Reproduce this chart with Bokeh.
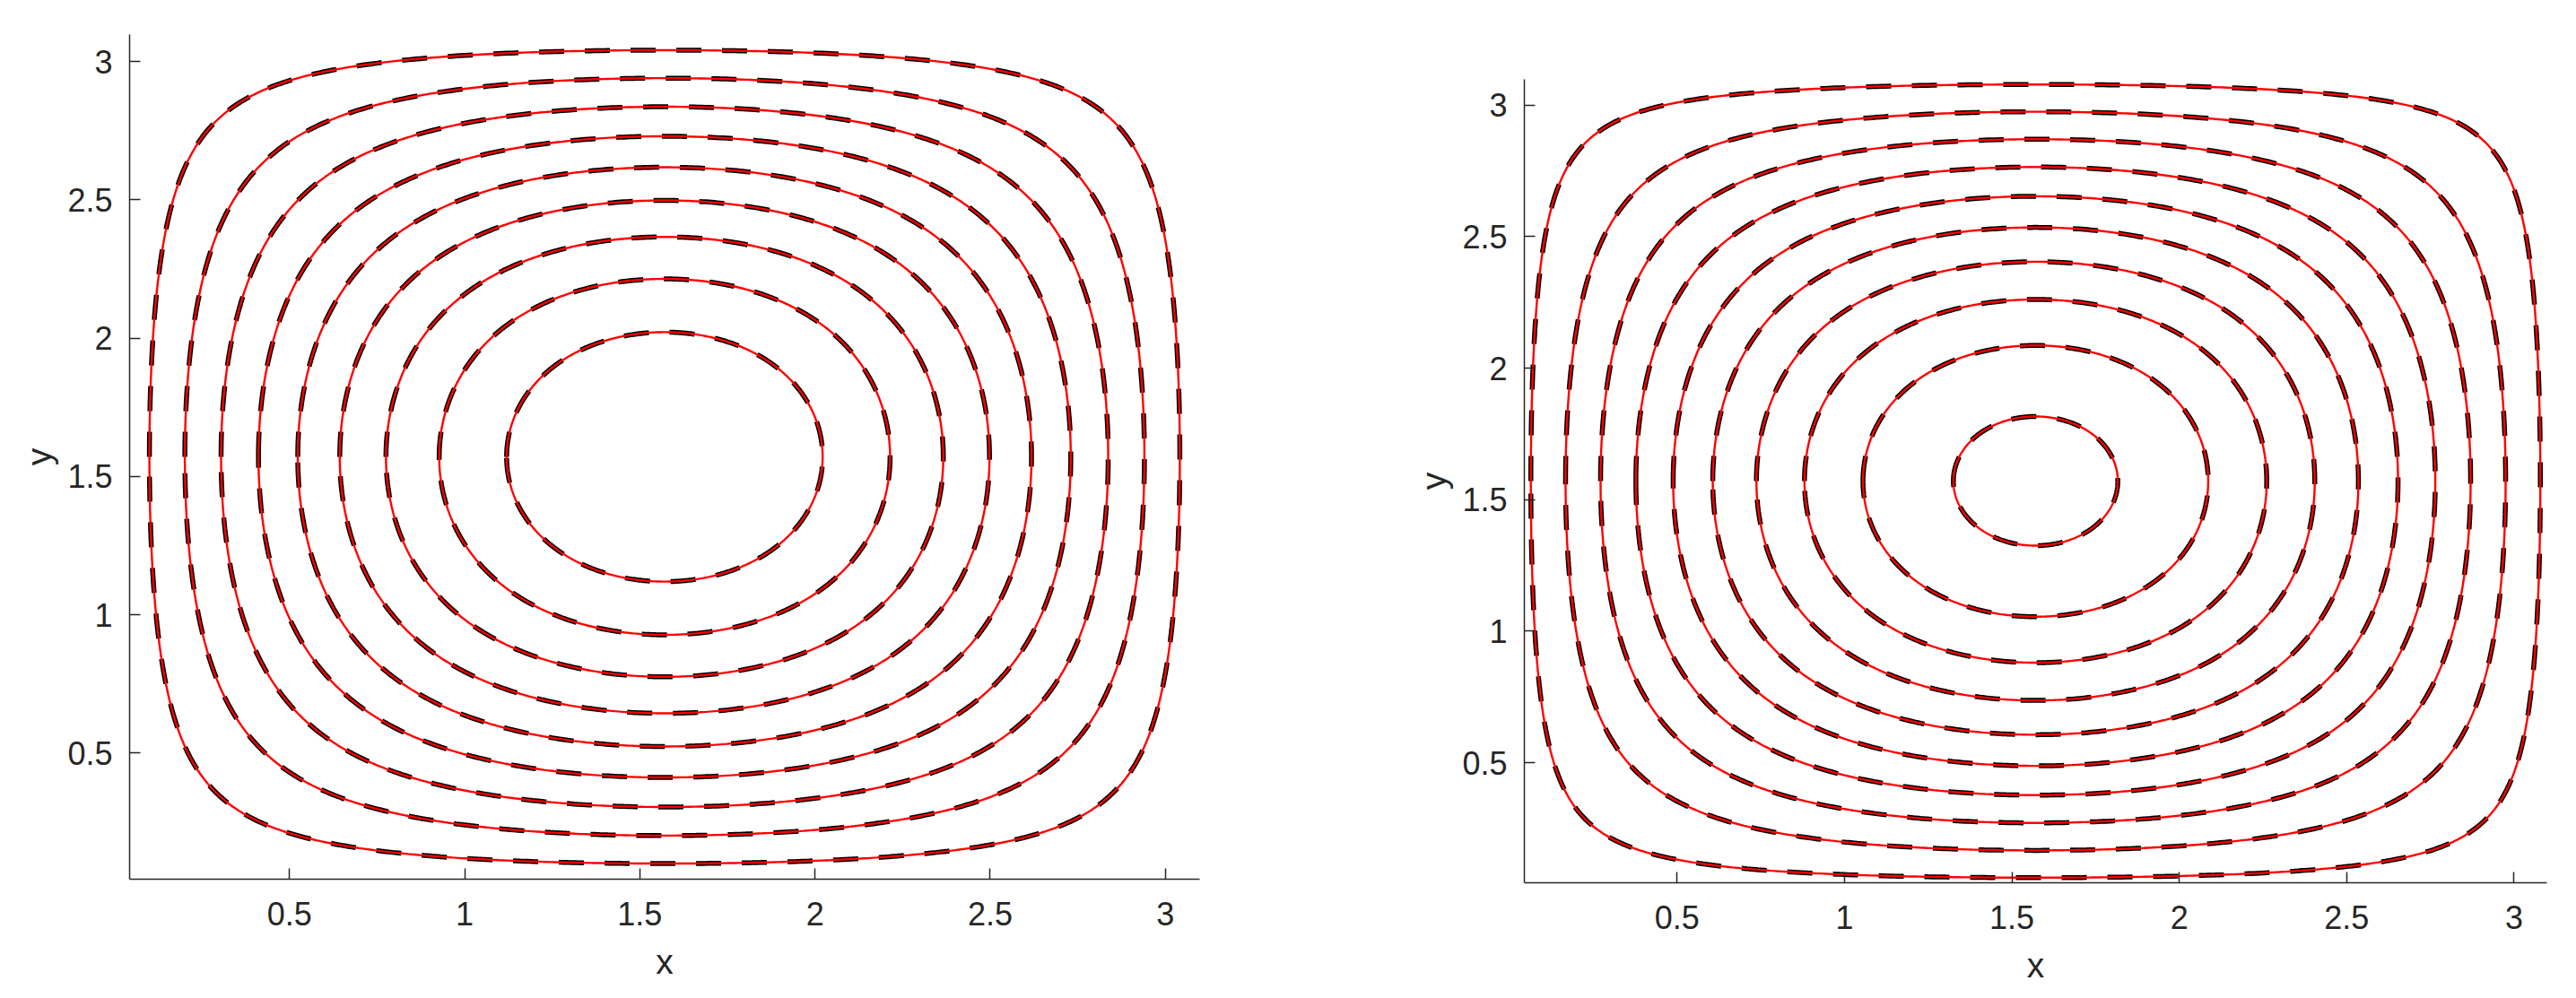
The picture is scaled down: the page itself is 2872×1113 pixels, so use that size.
import numpy as np
from bokeh.plotting import figure
from bokeh.layouts import row, column
from bokeh.models import Range1d, FixedTicker
from bokeh.embed import file_html
from bokeh.resources import INLINE

# ---- data ----
# streamfunction psi(x, y) = sin(x) sin(y); contour levels of each panel
axis_limits = [np.pi / 72, 71 * np.pi / 72]
tick_values = [0.5, 1, 1.5, 2, 2.5, 3]
tick_labels = ["0.5", "1", "1.5", "2", "2.5", "3"]
left_levels = [0.1, 0.2, 0.3, 0.4, 0.5, 0.6, 0.7, 0.8, 0.9]
right_levels = [0.063, 0.166, 0.268, 0.368, 0.469, 0.570, 0.672, 0.771, 0.870, 0.970]
x_label = "x"
y_label = "y"

FONT = "Liberation Sans"
TXT = "#262626"


def level_curve(c, n=360):
    a = np.arcsin(c)
    s = np.linspace(0.0, np.pi, n)
    x = np.pi / 2 - (np.pi / 2 - a) * np.cos(s)
    r = np.clip(c / np.sin(x), -1.0, 1.0)
    y_low = np.arcsin(r)
    y_up = np.pi - y_low
    xs = np.concatenate([x, x[::-1]])
    ys = np.concatenate([y_up, y_low[::-1]])
    return xs.tolist(), ys.tolist()


def make_panel(levels, width, height, bl, br, bt, bb):
    p = figure(width=width, height=height,
               x_range=Range1d(axis_limits[0], axis_limits[1]),
               y_range=Range1d(axis_limits[0], axis_limits[1]),
               output_backend="svg", toolbar_location=None,
               min_border_left=bl, min_border_right=br,
               min_border_top=bt, min_border_bottom=bb)
    p.outline_line_color = None
    p.xgrid.grid_line_color = None
    p.ygrid.grid_line_color = None
    curves = [level_curve(c) for c in levels]
    xs = [c[0] for c in curves]
    ys = [c[1] for c in curves]
    p.multi_line(xs, ys, line_color="black", line_width=5.5, line_dash="28 23")
    p.multi_line(xs, ys, line_color="#ff0000", line_width=2.4)
    overrides = {float(v): l for v, l in zip(tick_values, tick_labels)}
    for ax in (p.xaxis[0], p.yaxis[0]):
        ax.ticker = FixedTicker(ticks=tick_values)
        ax.major_label_overrides = overrides
        ax.minor_tick_line_color = None
        ax.major_tick_in = 12
        ax.major_tick_out = 0
        ax.axis_line_color = TXT
        ax.axis_line_width = 1.5
        ax.major_tick_line_color = TXT
        ax.major_tick_line_width = 1.5
        ax.major_label_text_font = FONT
        ax.major_label_text_font_size = "36px"
        ax.major_label_text_color = TXT
        ax.axis_label_text_font = FONT
        ax.axis_label_text_font_size = "39px"
        ax.axis_label_text_font_style = "normal"
        ax.axis_label_text_color = TXT
    p.xaxis[0].major_label_standoff = 25
    p.xaxis[0].axis_label_standoff = 16
    p.yaxis[0].major_label_standoff = 19
    p.yaxis[0].axis_label_standoff = 7
    p.xaxis[0].axis_label = x_label
    p.yaxis[0].axis_label = y_label
    return p


p1 = make_panel(left_levels, 1492, 1100, 144, 155, 38, 120)
p2 = make_panel(right_levels, 1364, 1100, 207, 17, 88, 114)

layout = row(column(p1), column(p2))
open("out.html", "w").write(file_html(layout, INLINE))
